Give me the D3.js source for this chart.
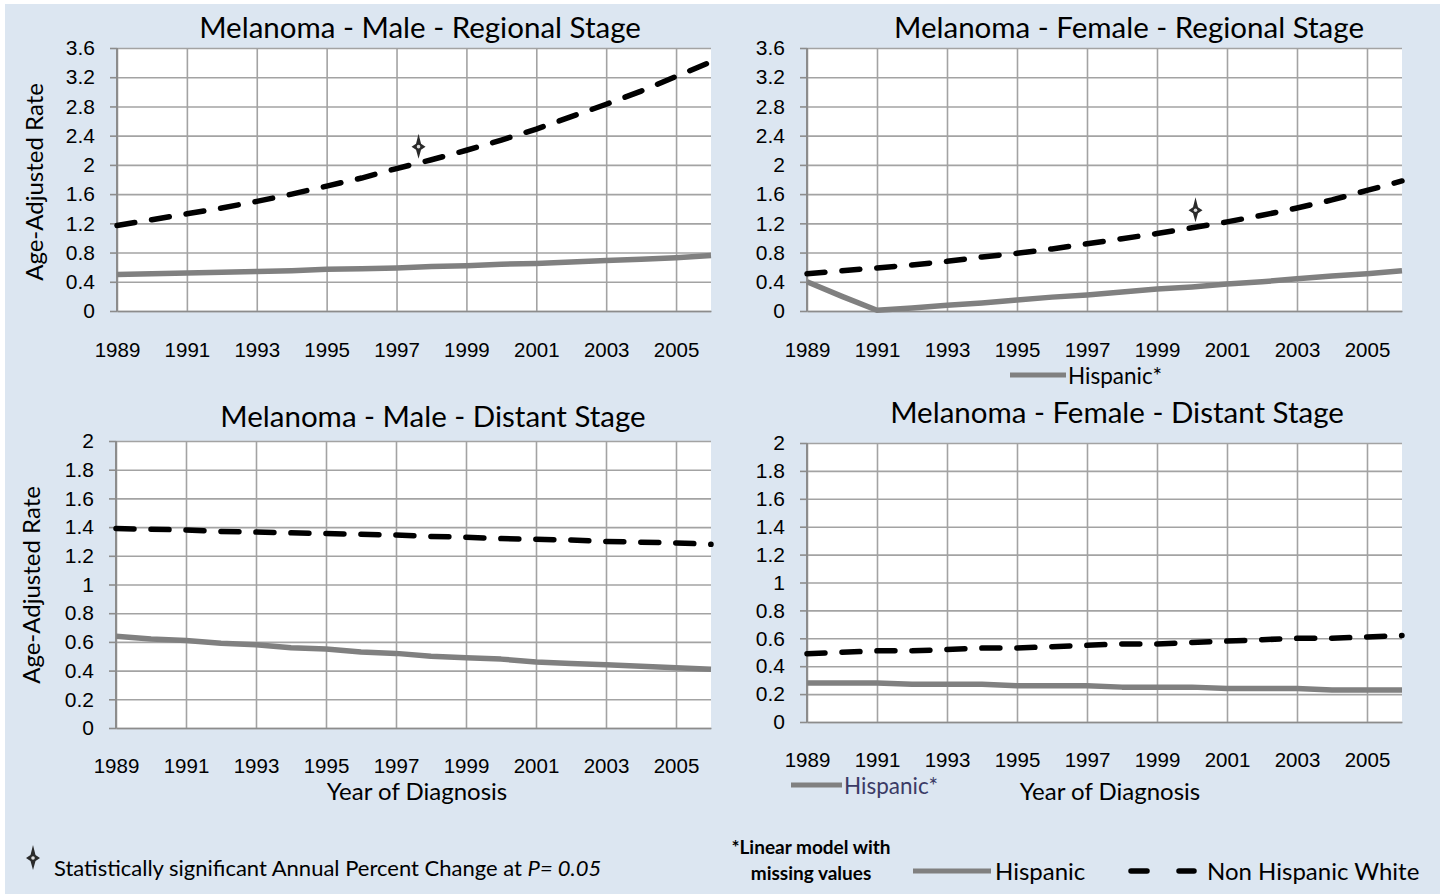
<!DOCTYPE html>
<html>
<head>
<meta charset="utf-8">
<script src="https://cdn.jsdelivr.net/npm/d3@7"></script>
<style>
  body { margin: 0; background: #fff; }
  svg { display: block; font-family: Lato, "Open Sans", sans-serif; }
</style>
</head>
<body>
<svg width="1440" height="894"></svg>
<script>
// years on the category axis, and the ones that get a label
var years = [1989,1990,1991,1992,1993,1994,1995,1996,1997,1998,1999,2000,2001,2002,2003,2004,2005,2006];
var labelYears = [1989,1991,1993,1995,1997,1999,2001,2003,2005];

var regionalTicks = [0,0.4,0.8,1.2,1.6,2,2.4,2.8,3.2,3.6];
var distantTicks = [0,0.2,0.4,0.6,0.8,1,1.2,1.4,1.6,1.8,2];

// age-adjusted rates
var maleRegionalNHW = [1.17,1.25,1.33,1.41,1.50,1.60,1.71,1.82,1.95,2.07,2.20,2.34,2.49,2.66,2.83,3.01,3.21,3.41];
var maleRegionalHisp = [0.50,0.51,0.52,0.53,0.54,0.55,0.57,0.58,0.59,0.61,0.62,0.64,0.65,0.67,0.69,0.71,0.73,0.76];
var femaleRegionalNHW = [0.51,0.55,0.59,0.63,0.68,0.74,0.79,0.85,0.92,0.99,1.06,1.14,1.22,1.31,1.41,1.52,1.65,1.78];
var femaleRegionalHisp = [0.40,0.20,0.01,0.04,0.08,0.11,0.15,0.19,0.22,0.26,0.30,0.33,0.37,0.40,0.44,0.48,0.51,0.55];
var maleDistantNHW = [1.39,1.385,1.38,1.37,1.365,1.36,1.355,1.35,1.345,1.335,1.33,1.32,1.315,1.31,1.30,1.295,1.29,1.28];
var maleDistantHisp = [0.64,0.62,0.61,0.59,0.58,0.56,0.55,0.53,0.52,0.50,0.49,0.48,0.46,0.45,0.44,0.43,0.42,0.41];
var femaleDistantNHW = [0.49,0.50,0.51,0.51,0.52,0.53,0.53,0.54,0.55,0.56,0.56,0.57,0.58,0.59,0.60,0.60,0.61,0.62];
var femaleDistantHisp = [0.28,0.28,0.28,0.27,0.27,0.27,0.26,0.26,0.26,0.25,0.25,0.25,0.24,0.24,0.24,0.23,0.23,0.23];

// significant APC markers [year, rate]
var maleRegionalStar = [1997.63, 2.25];
var femaleRegionalStar = [2000.1, 1.38];

var panels = [
  {title: "Melanoma - Male - Regional Stage", nhw: maleRegionalNHW, hisp: maleRegionalHisp, ticks: regionalTicks,
   left: 117, right: 711, top: 48, bottom: 311, titleX: 420, titleY: 38, pad: 31, yTitle: [35, 182], star: maleRegionalStar},
  {title: "Melanoma - Female - Regional Stage", nhw: femaleRegionalNHW, hisp: femaleRegionalHisp, ticks: regionalTicks,
   left: 807, right: 1402, top: 48, bottom: 311, titleX: 1129, titleY: 38, pad: 31, star: femaleRegionalStar,
   legend: [1010, 1066, 375]},
  {title: "Melanoma - Male - Distant Stage", nhw: maleDistantNHW, hisp: maleDistantHisp, ticks: distantTicks,
   left: 116, right: 711, top: 441, bottom: 728, titleX: 433, titleY: 427, pad: 30, yTitle: [32, 585], xTitle: [417, 800]},
  {title: "Melanoma - Female - Distant Stage", nhw: femaleDistantNHW, hisp: femaleDistantHisp, ticks: distantTicks,
   left: 807, right: 1402, top: 443, bottom: 722, titleX: 1117, titleY: 423, pad: 30, xTitle: [1110, 800],
   legend: [791, 842, 785], legendColor: "#3b3b66"}
];

var svg = d3.select("svg");
svg.append("rect").attr("x", 5).attr("y", 4).attr("width", 1435).attr("height", 890).attr("fill", "#dce6f1");

function starPath(g, x, y) {
  g.append("path")
    .attr("d", "M0,-13 L2.5,-3 L7,0 L2.5,3 L0,12 L-2.5,3 L-7,0 L-2.5,-3 Z")
    .attr("transform", "translate(" + x + "," + y + ")")
    .attr("fill", "#2a2a2a");
  g.append("circle").attr("cx", x).attr("cy", y).attr("r", 1.8).attr("fill", "#ddd");
}

panels.forEach(function(p) {
  var g = svg.append("g");
  var x = d3.scaleLinear().domain([1989, 2006]).range([p.left, p.right]);
  var y = d3.scaleLinear().domain([0, d3.max(p.ticks)]).range([p.bottom, p.top]);

  g.append("rect").attr("x", p.left).attr("y", p.top)
    .attr("width", p.right - p.left).attr("height", p.bottom - p.top).attr("fill", "#fff");

  // horizontal gridlines
  g.append("g")
    .attr("transform", "translate(" + p.left + ",0)")
    .call(d3.axisLeft(y).tickValues(p.ticks).tickSize(-(p.right - p.left)).tickFormat(""))
    .call(function(a) {
      a.select(".domain").remove();
      a.selectAll("line").attr("stroke", "#a3a3a3").attr("stroke-width", 1.6);
    });

  // vertical gridlines
  g.append("g")
    .attr("transform", "translate(0," + p.bottom + ")")
    .call(d3.axisBottom(x).tickValues(labelYears).tickSize(-(p.bottom - p.top)).tickFormat(""))
    .call(function(a) {
      a.select(".domain").remove();
      a.selectAll("line").attr("stroke", "#a3a3a3").attr("stroke-width", 1.6);
    });

  // y axis with outside ticks
  g.append("g")
    .attr("transform", "translate(" + p.left + ",0)")
    .call(d3.axisLeft(y).tickValues(p.ticks).tickSize(7).tickPadding(15).tickFormat(d3.format("~g")))
    .call(function(a) {
      a.select(".domain").attr("stroke", "#8c8c8c").attr("stroke-width", 2).attr("d", "M0," + p.top + "V" + p.bottom);
      a.selectAll("line").attr("stroke", "#8c8c8c").attr("stroke-width", 1.6);
      a.selectAll("text").attr("font-size", 21).attr("fill", "#000").attr("font-family", null);
    });

  // x axis labels
  g.append("g")
    .attr("transform", "translate(0," + p.bottom + ")")
    .call(d3.axisBottom(x).tickValues(labelYears).tickSize(0).tickPadding(p.pad).tickFormat(d3.format("d")))
    .call(function(a) {
      a.select(".domain").attr("stroke", "#8c8c8c").attr("stroke-width", 1.6);
      a.selectAll("text").attr("font-size", 20.5).attr("fill", "#000").attr("font-family", null);
    });

  var line = d3.line().x(function(d, i) { return x(years[i]); }).y(function(d) { return y(d); });

  g.append("path").datum(p.hisp).attr("d", line)
    .attr("fill", "none").attr("stroke", "#808080").attr("stroke-width", 5.5).attr("stroke-linejoin", "round");
  g.append("path").datum(p.nhw).attr("d", line)
    .attr("fill", "none").attr("stroke", "#000").attr("stroke-width", 5.5)
    .attr("stroke-dasharray", "18,17").attr("stroke-linecap", "round");

  g.append("text").attr("x", p.titleX).attr("y", p.titleY).attr("text-anchor", "middle")
    .attr("font-size", 29.5).text(p.title);

  if (p.yTitle) {
    g.append("text").attr("transform", "translate(" + p.yTitle[0] + "," + p.yTitle[1] + ") rotate(-90)")
      .attr("text-anchor", "middle").attr("dy", "0.35em").attr("font-size", 24).text("Age-Adjusted Rate");
  }
  if (p.xTitle) {
    g.append("text").attr("x", p.xTitle[0]).attr("y", p.xTitle[1]).attr("text-anchor", "middle")
      .attr("font-size", 24).text("Year of Diagnosis");
  }
  if (p.star) starPath(g, x(p.star[0]), y(p.star[1]));
  if (p.legend) {
    g.append("line").attr("x1", p.legend[0]).attr("x2", p.legend[1]).attr("y1", p.legend[2]).attr("y2", p.legend[2])
      .attr("stroke", "#808080").attr("stroke-width", 5);
    g.append("text").attr("x", p.legend[1] + 2).attr("y", p.legend[2]).attr("dy", "0.38em")
      .attr("font-size", 22.5).attr("fill", p.legendColor || "#000").text("Hispanic*");
  }
});

// bottom legend
var lg = svg.append("g");
starPath(lg, 33, 858);
var t = lg.append("text").attr("x", 54).attr("y", 876).attr("font-size", 22);
t.append("tspan").text("Statistically significant Annual Percent Change at ");
t.append("tspan").attr("font-style", "italic").text("P= 0.05");

lg.append("text").attr("x", 811).attr("y", 854).attr("text-anchor", "middle").attr("font-size", 19)
  .attr("font-weight", "bold").text("*Linear model with");
lg.append("text").attr("x", 811).attr("y", 880).attr("text-anchor", "middle").attr("font-size", 19)
  .attr("font-weight", "bold").text("missing values");

lg.append("line").attr("x1", 913).attr("x2", 991).attr("y1", 871).attr("y2", 871)
  .attr("stroke", "#808080").attr("stroke-width", 5);
lg.append("text").attr("x", 995).attr("y", 872).attr("dy", "0.35em").attr("font-size", 24).text("Hispanic");

lg.append("line").attr("x1", 1131).attr("x2", 1194).attr("y1", 871).attr("y2", 871)
  .attr("stroke", "#000").attr("stroke-width", 5.5).attr("stroke-dasharray", "16,32").attr("stroke-linecap", "round");
lg.append("text").attr("x", 1207).attr("y", 872).attr("dy", "0.35em").attr("font-size", 24).text("Non Hispanic White");
</script>
</body>
</html>
